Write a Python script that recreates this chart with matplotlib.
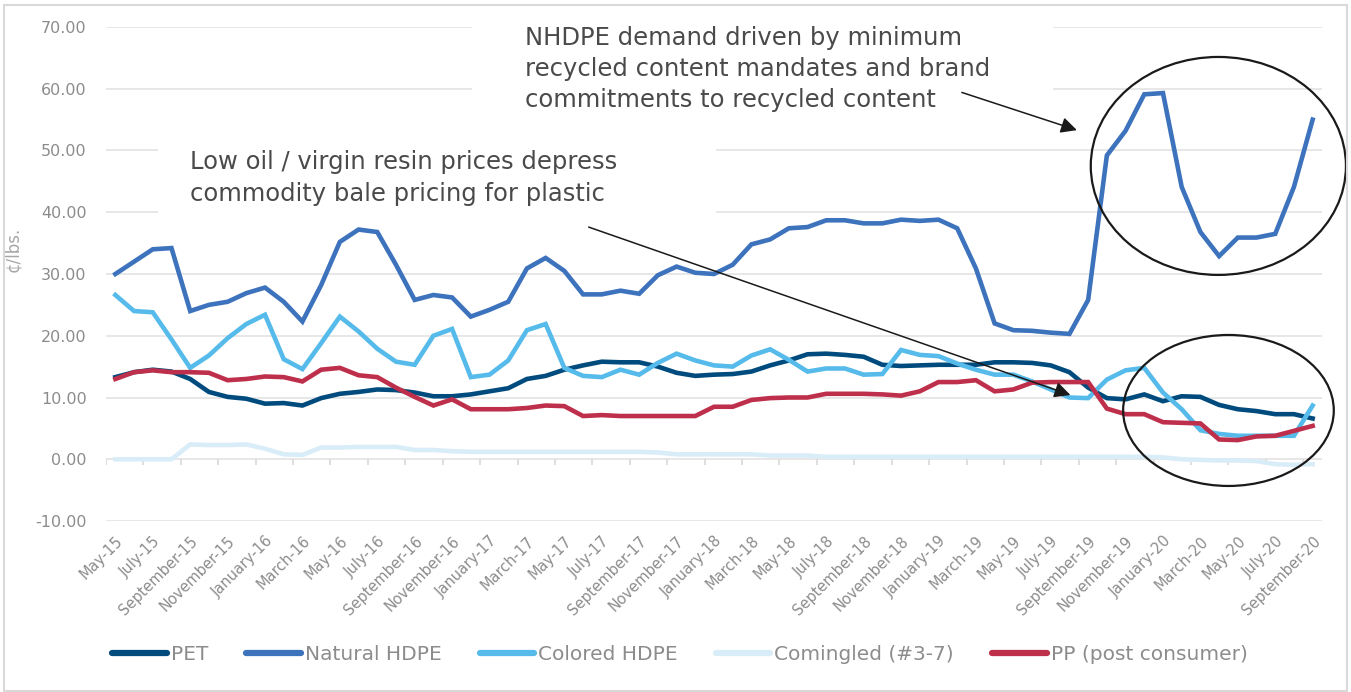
import matplotlib
matplotlib.use('Agg')
import matplotlib.pyplot as plt
from matplotlib.patches import Ellipse, Rectangle
import numpy as np
import pandas as pd

months = [d.strftime('%B-%y') for d in pd.date_range('2015-05-01', '2020-09-01', freq='MS')]

pet = [13.3, 14.1, 14.5, 14.2, 13.0, 10.9, 10.1, 9.8, 9.0, 9.1,
       8.7, 9.9, 10.6, 10.9, 11.3, 11.2, 10.8, 10.2, 10.2, 10.5,
       11.0, 11.5, 13.0, 13.5, 14.5, 15.2, 15.8, 15.7, 15.7, 15.0,
       14.0, 13.5, 13.7, 13.8, 14.2, 15.2, 16.0, 17.0, 17.1, 16.9,
       16.6, 15.3, 15.1, 15.2, 15.3, 15.3, 15.3, 15.7, 15.7, 15.6,
       15.2, 14.1, 11.6, 9.9, 9.7, 10.5, 9.4, 10.2, 10.1, 8.8,
       8.1, 7.8, 7.3, 7.3, 6.6]
natural_hdpe = [30.0, 32.0, 34.0, 34.2, 24.0, 25.0, 25.5, 26.9, 27.8, 25.5,
                22.3, 28.2, 35.2, 37.2, 36.8, 31.5, 25.8, 26.6, 26.2, 23.1,
                24.2, 25.5, 30.9, 32.6, 30.5, 26.7, 26.7, 27.3, 26.8, 29.8,
                31.2, 30.2, 30.0, 31.5, 34.8, 35.6, 37.4, 37.6, 38.7, 38.7,
                38.2, 38.2, 38.8, 38.6, 38.8, 37.4, 30.9, 22.0, 20.9, 20.8,
                20.5, 20.3, 25.8, 49.2, 53.2, 59.1, 59.3, 44.1, 36.8, 32.9,
                35.9, 35.9, 36.5, 44.1, 55.0]
colored_hdpe = [26.6, 24.0, 23.8, 19.4, 14.8, 16.8, 19.6, 21.9, 23.4, 16.2,
                14.6, 18.8, 23.1, 20.7, 17.9, 15.8, 15.3, 20.0, 21.1, 13.3,
                13.7, 16.0, 20.9, 21.9, 14.8, 13.5, 13.3, 14.5, 13.7, 15.6,
                17.1, 16.0, 15.2, 15.0, 16.8, 17.8, 16.1, 14.2, 14.7, 14.7,
                13.7, 13.8, 17.7, 16.9, 16.7, 15.5, 14.5, 13.7, 13.7, 12.6,
                11.3, 10.0, 9.9, 12.9, 14.4, 14.8, 10.8, 8.1, 4.7, 4.1,
                3.8, 3.8, 3.8, 3.8, 8.7]
comingled = [0.0, 0.0, 0.0, 0.0, 2.4, 2.3, 2.3, 2.4, 1.7, 0.8,
             0.7, 1.9, 1.9, 2.0, 2.0, 2.0, 1.5, 1.5, 1.3, 1.2,
             1.2, 1.2, 1.2, 1.2, 1.2, 1.2, 1.2, 1.2, 1.2, 1.1,
             0.8, 0.8, 0.8, 0.8, 0.8, 0.6, 0.6, 0.6, 0.4, 0.4,
             0.4, 0.4, 0.4, 0.4, 0.4, 0.4, 0.4, 0.4, 0.4, 0.4,
             0.4, 0.4, 0.4, 0.4, 0.4, 0.4, 0.3, 0.0, -0.1, -0.2,
             -0.2, -0.3, -0.8, -0.9, -0.8]
pp = [13.0, 14.1, 14.4, 14.1, 14.1, 14.0, 12.8, 13.0, 13.4, 13.3,
      12.6, 14.5, 14.8, 13.6, 13.3, 11.6, 10.1, 8.7, 9.7, 8.1,
      8.1, 8.1, 8.3, 8.7, 8.6, 7.0, 7.15, 7.0, 7.0, 7.0,
      7.0, 7.0, 8.5, 8.5, 9.6, 9.9, 10.0, 10.0, 10.6, 10.6,
      10.6, 10.5, 10.3, 11.0, 12.5, 12.5, 12.8, 11.0, 11.3, 12.4,
      12.5, 12.5, 12.5, 8.2, 7.3, 7.3, 6.0, 5.9, 5.8, 3.2,
      3.1, 3.7, 3.8, 4.6, 5.4]

names = ['PET', 'Natural HDPE', 'Colored HDPE', 'Comingled (#3-7)', 'PP (post consumer)']
colors = ['#004B7D', '#3D72BC', '#56BBEA', '#D9EDF8', '#BE2F4C']

W, H = 1351, 692
fig = plt.figure(figsize=(W / 100, H / 100), dpi=100)
ax = fig.add_axes([106 / W, 1 - 521 / H, 1216 / W, 494 / H])

x = np.arange(len(months))
series = [pet, natural_hdpe, colored_hdpe, comingled, pp]
for vals, name, c in zip(series, names, colors):
    ax.plot(x, vals, color=c, lw=3.3, label=name, solid_joinstyle='miter', zorder=3)

ax.set_xlim(-0.5, len(months) - 0.5)
ax.set_ylim(-10, 70)
ax.set_yticks(np.arange(-10, 71, 10))
ax.set_yticklabels(['%.2f' % v for v in np.arange(-10, 71, 10)])
ax.yaxis.grid(True, color='#E5E5E5', lw=1.3, zorder=0)
ax.set_axisbelow(True)
for s in ax.spines.values():
    s.set_visible(False)
ax.tick_params(axis='y', length=0, labelsize=11.5, labelcolor='#8C8C8C', pad=14)

ax.set_xticks(x[::2])
ax.set_xticklabels(months[::2], rotation=45, ha='right', rotation_mode='anchor')
ax.tick_params(axis='x', length=0, labelsize=10.5, labelcolor='#8C8C8C', pad=9)
# small tick marks on the zero line between category pairs
ax.vlines(np.arange(-0.5, len(months), 2), -0.9, 0, color='#D9D9D9', lw=1.2, zorder=1)

ax.set_ylabel('¢/lbs.', color='#A6A6A6', fontsize=12)
ax.yaxis.set_label_coords((22 - 106) / 1216, 0.55)

# chart border
fig.patches.append(Rectangle((4 / W, 1 / H), 1343 / W, 686 / H, transform=fig.transFigure,
                             fill=False, ec='#D9D9D9', lw=1.5, zorder=0))

# white boxes behind the annotation texts
ax.add_patch(Rectangle((472 / W, 1 - 122 / H), 581 / W, 122 / H, transform=fig.transFigure,
                       fc='white', ec='none', zorder=4, clip_on=False))
ax.add_patch(Rectangle((158 / W, 1 - 218 / H), 558 / W, 86 / H, transform=fig.transFigure,
                       fc='white', ec='none', zorder=4, clip_on=False))

fig.text(525 / W, 1 - 69 / H,
         'NHDPE demand driven by minimum\nrecycled content mandates and brand\ncommitments to recycled content',
         fontsize=17.5, color='#4A4A4A', va='center', ha='left', linespacing=1.38, zorder=5)
fig.text(190 / W, 1 - 178 / H,
         'Low oil / virgin resin prices depress\ncommodity bale pricing for plastic',
         fontsize=17.5, color='#4A4A4A', va='center', ha='left', linespacing=1.38, zorder=5)

ax.annotate('', xy=(51.4, 53.3), xytext=(45.25, 59.4),
            arrowprops=dict(arrowstyle='-|>', color='#1A1A1A', lw=1.1, mutation_scale=24,
                            shrinkA=0, shrinkB=0), zorder=6)
ax.annotate('', xy=(51.05, 10.4), xytext=(25.3, 37.6),
            arrowprops=dict(arrowstyle='-|>', color='#1A1A1A', lw=1.1, mutation_scale=24,
                            shrinkA=0, shrinkB=0), zorder=6)

ax.add_patch(Ellipse((58.96, 47.5), 13.64, 35.3, fill=False, ec='#1A1A1A', lw=1.6,
                     zorder=6, clip_on=False))
ax.add_patch(Ellipse((59.5, 7.9), 11.26, 24.45, fill=False, ec='#1A1A1A', lw=1.6,
                     zorder=6, clip_on=False))

leg = fig.legend(loc='center', bbox_to_anchor=(680 / W, 1 - 655 / H), ncol=5, frameon=False,
                 fontsize=14.5, handlelength=2.7, handletextpad=0.2, columnspacing=1.9)
for t in leg.get_texts():
    t.set_color('#8C8C8C')
for l in leg.get_lines():
    l.set_linewidth(4.5)
    l.set_solid_capstyle('round')

fig.savefig('out.png', dpi=100)
